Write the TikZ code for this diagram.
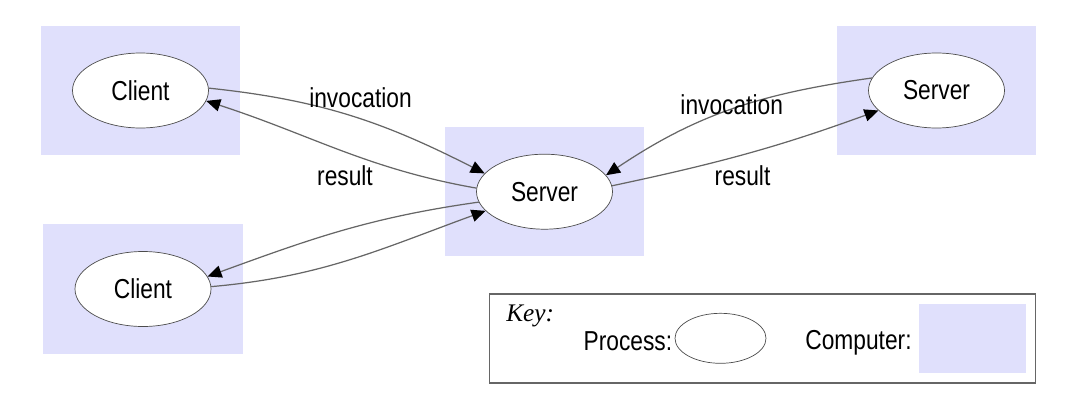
\documentclass[tikz,border=0pt]{standalone}
\usepackage{fontspec}
\setmainfont[FakeStretch=0.83]{Liberation Sans}
\newfontfamily\keyfont{Liberation Serif}
\usetikzlibrary{shapes.geometric, arrows.meta}
\definecolor{computerblue}{RGB}{224,224,252}
\tikzstyle{computer} = [rectangle, fill=computerblue, minimum width=3.99cm, minimum height=2.59cm]
\tikzstyle{process} = [ellipse, draw=black!70, fill=white, minimum width=2.72cm, minimum height=1.5cm, inner sep=0pt, font=\fontsize{15.6}{18}\selectfont]
\tikzstyle{msglabel} = [anchor=base, font=\fontsize{15.6}{18}\selectfont]
\tikzstyle{keytext} = [anchor=base west, inner sep=0pt, font=\fontsize{15.6}{18}\selectfont]
\tikzstyle{arrow} = [draw=black!60, line width=0.7pt, -{Triangle[length=8pt,width=7pt,color=black]}]

\begin{document}
\begin{tikzpicture}
\useasboundingbox (0,0) rectangle (21.4,8.16);
% computers
\node (comp1) [computer] at (2.81,6.35) {};
\node (comp2) [computer] at (2.86,2.38) {};
\node (comp3) [computer] at (10.89,4.326) {};
\node (comp4) [computer] at (18.73,6.35) {};
% processes
\node (client1) [process] at (comp1) {Client};
\node (client2) [process] at (comp2) {Client};
\node (server) [process] at (comp3) {Server};
\node (server2) [process] at (comp4) {Server};

\draw [arrow] (client1.2) to[out=-6, in=153] (server.163);
\draw [arrow] (server.177) to[out=170, in=-18] (client1.351);
\draw [arrow] (server.189) to[out=188, in=20] (client2.11);
\draw [arrow] (client2.2) to[out=5, in=200] (server.198);
\draw [arrow] (server2.169) to[out=188, in=34] (server.15);
\draw [arrow] (server.5) to[out=12, in=200] (server2.199);

\node (inv1) [msglabel] at (7.21,6.014) {invocation};
\node (res1) [msglabel] at (6.9,4.46) {result};
\node (inv2) [msglabel] at (14.634,5.88) {invocation};
\node (res2) [msglabel] at (14.85,4.446) {result};

% key
\node (keybox) [draw=black!60, line width=0.7pt, minimum width=10.93cm, minimum height=1.78cm] at (15.25,1.39) {};
\node (keytitle) [anchor=base west, inner sep=0pt, font=\keyfont\itshape\fontsize{14.4}{17}\selectfont] at (10.12,1.726) {Key:};
\node (proctext) [keytext] at (11.666,1.16) {Process:};
\node (keyproc) [process, minimum width=1.82cm, minimum height=1cm] at (14.41,1.394) {};
\node (comptext) [keytext] at (16.1,1.173) {Computer:};
\node (keycomp) [computer, minimum width=2.14cm, minimum height=1.386cm] at (19.45,1.386) {};
\end{tikzpicture}
\end{document}
